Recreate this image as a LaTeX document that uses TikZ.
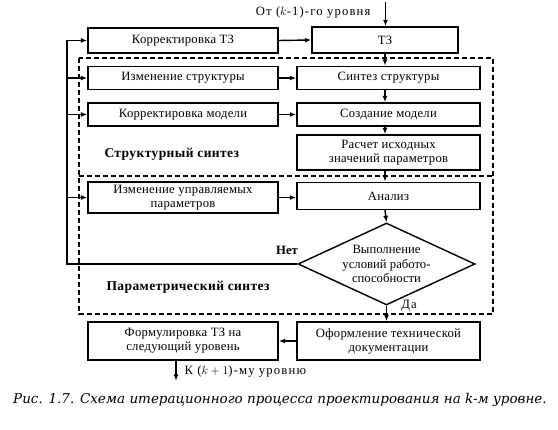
\documentclass[tikz,border=0pt]{standalone}
\usepackage{fontspec}
\setmainfont{Liberation Serif}
\newfontfamily\capfont{DejaVu Serif}
\usetikzlibrary{positioning}
\usetikzlibrary{shapes.geometric}
\usetikzlibrary{arrows.meta}

\tikzset{
  blok/.style={draw, line width=.5mm, align=center, inner sep=1pt, font=\fontsize{12.7}{14}\selectfont\addfontfeature{LetterSpace=2}},
  leftblok/.style={blok, minimum width=190pt, minimum height=23pt},
  rightblok/.style={blok, minimum width=183pt, minimum height=23pt},
  strelka/.style={->, >={Latex[length=6.5pt,width=5pt]}, color=black, line width=.5mm},
  liniya/.style={color=black, line width=.5mm},
  ramka/.style={dashed, line width=.4mm, dash pattern=on 5pt off 3pt},
  metka/.style={font=\fontsize{12.7}{14}\selectfont\addfontfeature{LetterSpace=9}},
  zagolovok/.style={font=\bfseries\fontsize{13.5}{15}\selectfont\addfontfeature{LetterSpace=3}},
}

\begin{document}
\begin{tikzpicture}[x=1pt,y=-1pt]
\useasboundingbox (0,0) rectangle (558,430);
\draw[ramka] (79,58) rectangle (493,314);
\draw[ramka] (79,176) -- (493,176);

\node(tz)[blok, minimum width=146pt, minimum height=26pt] at (385,40) {ТЗ};
\node(korrtz)[leftblok, minimum height=25pt] at (183,40.5) {Корректировка ТЗ};
\node(izmstr)[leftblok] at (183,78) {Изменение структуры};
\node(sintez)[rightblok] at (388.5,78) {Синтез структуры};
\node(korrmod)[leftblok] at (183,114.5) {Корректировка модели};
\node(sozd)[rightblok] at (388.5,114.5) {Создание модели};
\node(raschet)[rightblok, minimum height=35pt] at (388.5,152.5) {Расчет исходных\\значений параметров};
\node(izmpar)[leftblok, minimum height=31pt] at (183,197.5) {Изменение управляемых\\параметров};
\node(analiz)[rightblok, minimum height=27pt] at (388.5,196) {Анализ};
\node(usl)[diamond, draw, line width=.5mm, aspect=2.2, minimum width=177pt, minimum height=82pt, inner sep=0pt, align=center, font=\fontsize{12.7}{14.5}\selectfont] at (386.5,264) {Выполнение\\условий работо-\\способности};
\node(oform)[rightblok, minimum height=38pt] at (388.5,341) {Оформление технической\\документации};
\node(form)[leftblok, minimum height=38pt] at (183,341) {Формулировка ТЗ на\\следующий уровень};

\node(strlbl)[zagolovok, anchor=west] at (101,154) {Структурный синтез};
\node(parlbl)[zagolovok, anchor=west] at (103,287) {Параметрический синтез};
\node(net)[metka, font=\bfseries\fontsize{12.7}{14}\selectfont] at (287,250) {Нет};
\node(da)[metka] at (409,306) {Да};
\node(ot)[metka, anchor=east] at (374,12) {От ($k$-1)-го уровня};
\node(kur)[metka, anchor=west] at (181,371) {К ($k+1$)-му уровню};
\node(podpis)[font=\capfont\itshape\fontsize{13.5}{15}\selectfont] at (280,400) {Рис. 1.7. Схема итерационного процесса проектирования на k-м уровне.};

\coordinate(vhod) at (385.5,2);
\coordinate(vyhod) at (176,381);
\coordinate(levo) at (67,264);
\coordinate(verh) at (67,40.5);

\draw[strelka] (vhod)--(vhod |- tz.north);
\draw[strelka] (korrtz.east)--(tz.west);
\draw[strelka] (tz.south)--(tz.south |- sintez.north);
\draw[strelka] (tz.south |- sintez.south)--(tz.south |- sozd.north);
\draw[strelka] (tz.south |- sozd.south)--(tz.south |- raschet.north);
\draw[strelka] (tz.south |- raschet.south)--(tz.south |- analiz.north);
\draw[strelka] (tz.south |- analiz.south)--(usl.north);
\draw[strelka] (usl.south)--(usl.south |- oform.north);

\draw[strelka] (izmstr.east)--(sintez.west);
\draw[strelka] (korrmod.east)--(sozd.west);
\draw[strelka] (izmpar.east)--(izmpar.east -| analiz.west);
\draw[strelka] (oform.west)--(form.east);
\draw[strelka] (form.south -| vyhod)--(vyhod);

\draw[liniya] (usl.west)--(levo)--(verh);
\draw[strelka] (verh)--(korrtz.west);
\draw[strelka] (levo |- izmstr)--(izmstr.west);
\draw[strelka] (levo |- korrmod)--(korrmod.west);
\draw[strelka] (levo |- izmpar)--(izmpar.west);
\end{tikzpicture}
\end{document}
